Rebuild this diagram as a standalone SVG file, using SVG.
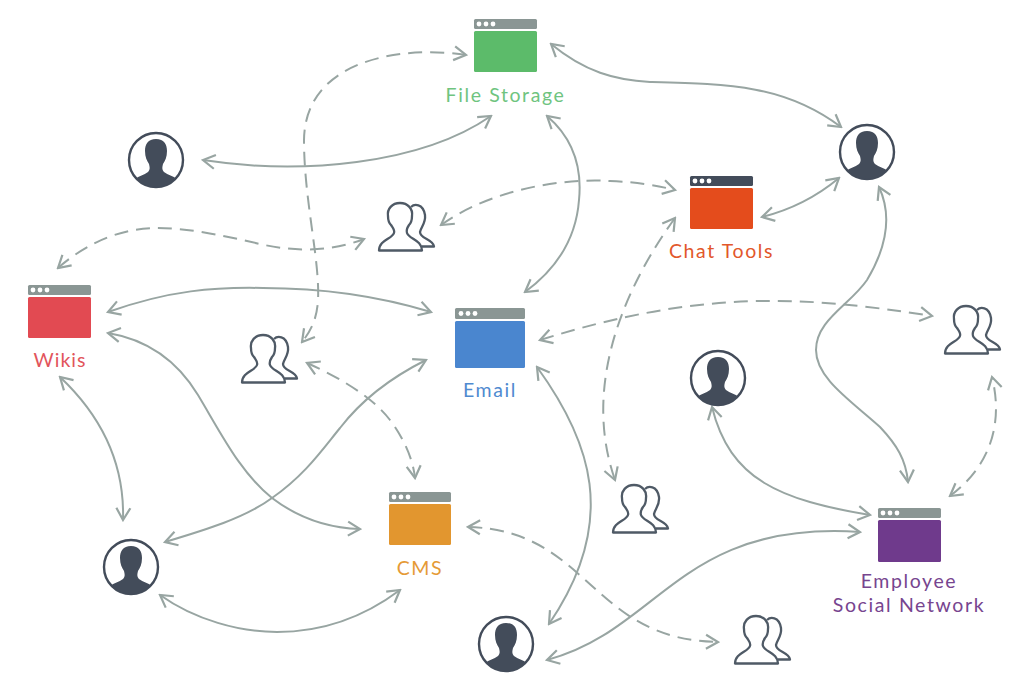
<svg xmlns="http://www.w3.org/2000/svg" width="1028" height="691" viewBox="0 0 1028 691">
<style>
.c{fill:none;stroke:#98a5a2;stroke-width:2;marker-start:url(#a);marker-end:url(#a)}
.d{stroke-dasharray:14 8}
.t{font-family:"Lato","Noto Sans",sans-serif;font-size:19.5px;letter-spacing:1.6px;text-anchor:middle}
.h{fill:#8a9694}
.hd{fill:#434c5a}
.dot{fill:#fff}
.ring{fill:#fff;stroke:#434c5a;stroke-width:2.4}
.sil{fill:#434c5a}
.g{fill:#fff;stroke:#4f5a66;stroke-width:2.3;stroke-linejoin:round}
.g2{fill:none;stroke:#4f5a66;stroke-width:2.3;stroke-linejoin:round}
</style>
<defs>
<marker id="a" viewBox="-14 -9 16 18" refX="0" refY="0" markerWidth="16" markerHeight="18" markerUnits="userSpaceOnUse" orient="auto-start-reverse">
<path d="M-12,-7 L0,0 L-12,7" fill="none" stroke="#98a5a2" stroke-width="2.2"/>
</marker>
<clipPath id="pc"><circle r="27"/></clipPath>
<g id="person">
<circle class="ring" r="27"/>
<path class="sil" clip-path="url(#pc)" d="M0,-21 C8,-21 11,-16 11,-9 C11,-3 9,1 7,4 C6,8 6,10 8,12 C12,15 17,16 21,19 C24,21 27,25 28,28 L-28,28 C-27,25 -24,21 -21,19 C-17,16 -12,15 -8,12 C-6,10 -6,8 -7,4 C-9,1 -11,-3 -11,-9 C-11,-16 -8,-21 0,-21Z"/>
</g>
<g id="group">
<path class="g2" d="M33,4 C36,1 45,0 47,12 C48,20 43,24 42,29 C42,36 55,36 56,43.5 L44,43.5"/>
<path class="g" d="M22,0 C30,0 35,6 34,13 C34,17 33,20 31,22 C29,25 28,27 29,30 C31,36 44,37 44,47.5 L1,47.5 C1,37 14,36 16,30 C17,27 15,25 13,22 C11,20 10,17 10,13 C9,6 14,0 22,0Z"/>
</g>
</defs>
<rect width="1028" height="691" fill="#fff"/>
<g id="connectors">
<path class="c" d="M551,44 C585,72 615,80 650,82 C730,84 785,85 841,127"/>
<path class="c" d="M203,160 C300,175 420,165 491,116"/>
<path class="c" d="M547,116 C575,140 582,170 579,200 C576,240 555,270 525,292"/>
<path class="c" d="M762,217 C790,210 815,198 839,178"/>
<path class="c" d="M879,187 C892,215 888,245 867,280 C850,305 816,320 816,350 C816,378 850,400 880,427 C897,445 906,460 908,482"/>
<path class="c" d="M108,312 C170,290 215,287 263,288 C320,288 375,295 431,312"/>
<path class="c" d="M108,333 C150,340 178,362 198,395 C222,435 240,472 272,498 C297,517 325,528 360,529"/>
<path class="c" d="M60,377 C95,410 125,455 123,520"/>
<path class="c" d="M165,542 C205,530 245,518 272,498 C305,475 322,450 340,428 C360,402 390,378 426,360"/>
<path class="c" d="M160,595 C195,620 240,632 277,632 C320,632 360,620 400,590"/>
<path class="c" d="M537,367 C590,440 620,520 549,624"/>
<path class="c" d="M712,407 C730,480 780,500 870,515"/>
<path class="c" d="M547,660 C660,630 680,520 860,532"/>
<path class="c d" d="M466,55 C400,45 305,60 304,140 C304,200 320,260 318,300 C317,320 310,332 302,342"/>
<path class="c d" d="M441,225 C490,190 560,178 610,181 C635,182 655,185 675,190"/>
<path class="c d" d="M58,268 C90,240 125,228 157,228 C190,228 225,236 260,244 C295,252 330,252 364,239"/>
<path class="c d" d="M675,218 C630,280 580,380 615,480"/>
<path class="c d" d="M540,340 C700,290 800,295 932,316"/>
<path class="c d" d="M307,363 C345,380 375,400 390,420 C405,440 413,460 415,478"/>
<path class="c d" d="M468,527 C590,530 590,640 718,642"/>
<path class="c d" d="M950,496 C985,470 1005,430 992,377"/>
</g>
<g id="file-storage">
<rect x="474" y="19" width="63" height="10" rx="1.500" class="h"/><rect x="474" y="31" width="63" height="41" rx="1.500" fill="#5cbb6a"/>
<circle class="dot" cx="479" cy="24" r="2.400"/><circle class="dot" cx="486" cy="24" r="2.400"/><circle class="dot" cx="493" cy="24" r="2.400"/>
<text class="t" x="505.500" y="102" fill="#6fc47f">File Storage</text>
</g>
<g id="chat-tools">
<rect x="690" y="176" width="63" height="10" rx="1.500" class="hd"/><rect x="690" y="188" width="63" height="41" rx="1.500" fill="#e44c1c"/>
<circle class="dot" cx="695" cy="181" r="2.400"/><circle class="dot" cx="702" cy="181" r="2.400"/><circle class="dot" cx="709" cy="181" r="2.400"/>
<text class="t" x="721.500" y="258" fill="#e2572b">Chat Tools</text>
</g>
<g id="wikis">
<rect x="28" y="285" width="63" height="10" rx="1.500" class="h"/><rect x="28" y="297" width="63" height="41" rx="1.500" fill="#e24a52"/>
<circle class="dot" cx="33" cy="290" r="2.400"/><circle class="dot" cx="40" cy="290" r="2.400"/><circle class="dot" cx="47" cy="290" r="2.400"/>
<text class="t" x="60" y="367" fill="#e2555c" style="letter-spacing:1px">Wikis</text>
</g>
<g id="email">
<rect x="455" y="308" width="70" height="11" rx="1.500" class="h"/><rect x="455" y="321" width="70" height="47" rx="1.500" fill="#4a86cf"/>
<circle class="dot" cx="461" cy="313.500" r="2.400"/><circle class="dot" cx="468" cy="313.500" r="2.400"/><circle class="dot" cx="475" cy="313.500" r="2.400"/>
<text class="t" x="490" y="397" fill="#4f8ad0">Email</text>
</g>
<g id="cms">
<rect x="389" y="492" width="62" height="10" rx="1.500" class="h"/><rect x="389" y="504" width="62" height="41" rx="1.500" fill="#e2962f"/>
<circle class="dot" cx="394" cy="497" r="2.400"/><circle class="dot" cx="401" cy="497" r="2.400"/><circle class="dot" cx="408" cy="497" r="2.400"/>
<text class="t" x="420" y="575" fill="#e59a36">CMS</text>
</g>
<g id="employee-social-network">
<rect x="878" y="508" width="63" height="10" rx="1.500" class="h"/><rect x="878" y="520" width="63" height="42" rx="1.500" fill="#6f3a8c"/>
<circle class="dot" cx="883" cy="513" r="2.400"/><circle class="dot" cx="890" cy="513" r="2.400"/><circle class="dot" cx="897" cy="513" r="2.400"/>
<text class="t" x="909" y="587.500" fill="#77458f">Employee</text>
<text class="t" x="909" y="612" fill="#77458f">Social Network</text>
</g>
<g id="person-1"><use href="#person" x="156" y="160"/></g>
<g id="person-2"><use href="#person" x="867" y="152"/></g>
<g id="person-3"><use href="#person" x="718" y="378"/></g>
<g id="person-4"><use href="#person" x="131" y="567"/></g>
<g id="person-5"><use href="#person" x="506" y="644"/></g>
<g id="group-1"><use href="#group" x="378" y="203"/></g>
<g id="group-2"><use href="#group" x="241" y="335"/></g>
<g id="group-3"><use href="#group" x="944" y="306"/></g>
<g id="group-4"><use href="#group" x="612" y="485"/></g>
<g id="group-5"><use href="#group" x="734" y="616"/></g>
</svg>
